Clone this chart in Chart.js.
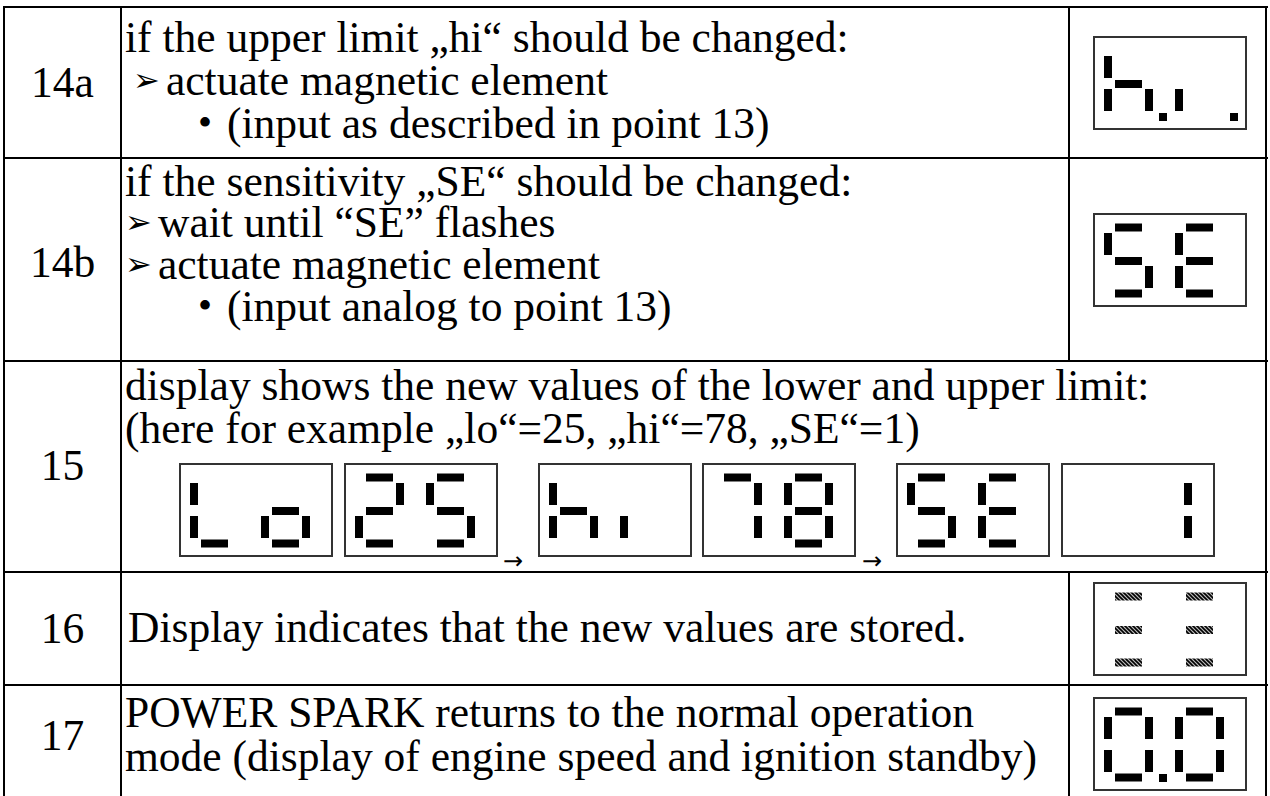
<!DOCTYPE html>
<html>
<head>
<meta charset="utf-8">
<script src="https://cdn.jsdelivr.net/npm/chart.js@4/dist/chart.umd.min.js"></script>
<style>
html, body { margin: 0; padding: 0; background: #fff; overflow: hidden; }
#page { position: relative; width: 1270px; height: 796px; font-family: "Liberation Serif", "Times New Roman", serif; font-size: 43.5px; color: #000; }
.hr { position: absolute; height: 2px; background: #000; }
.vr { position: absolute; width: 2px; background: #000; }
.num { position: absolute; left: 4px; width: 117px; text-align: center; height: 40px; line-height: 40px; }
.ln { position: absolute; white-space: nowrap; height: 40px; line-height: 40px; }
.mk { position: absolute; height: 40px; line-height: 40px; font-family: "DejaVu Sans", sans-serif; font-size: 32px; }
.mk.dot { font-family: "Liberation Serif", serif; font-size: 40px; }
.box { position: absolute; box-sizing: border-box; width: 154px; height: 94px; border: 2px solid #333; background: #fff; }
.box canvas { position: absolute; left: 0; top: 0; }
.arrow { position: absolute; font-family: "DejaVu Sans", sans-serif; font-size: 24px; line-height: 20px; }
</style>
</head>
<body>
<div id="page"></div>
<script>
// display contents (what each seven-segment display shows)
const steps = ['14a', '14b', '15', '16', '17'];
const display14a = 'h.i.';
const display14b = 'SE';
const display15 = ['Lo', '25', 'hi', '78', 'SE', ' 1'];
const display16 = '≡≡';   // flashing bars
const display17 = '0.0';

// which segments are lit for each character
const glyphs = {
  '0': 'abcdef', '1': 'bc', '2': 'abdeg', '5': 'acdfg', '7': 'abc', '8': 'abcdefg',
  'S': 'acdfg', 'E': 'adefg', 'L': 'def', 'o': 'cdeg', 'h': 'cefg', 'i': 'e',
  '≡': 'adg', ' ': ''
};

// segment shape inside one digit cell (units of the display box)
const segShape = {
  a: [[11, 14.5], [38, 14.5]], g: [[11, 48], [38, 48]], d: [[11, 80.5], [38, 80.5]],
  f: [[4, 20], [4, 42]], e: [[4, 53], [4, 75]],
  b: [[45, 20], [45, 42]], c: [[45, 53], [45, 75]],
  p: [[55, 81], [63, 81]]
};
const digitStart = 11, digitPitch = 71;

const page = document.getElementById('page');
function add(cls, css, text) {
  const d = document.createElement('div');
  d.className = cls;
  Object.assign(d.style, css);
  if (text != null) d.textContent = text;
  page.appendChild(d);
  return d;
}

// table rules
const rowLines = [7, 158, 361, 572, 685];
rowLines.forEach(y => add('hr', { left: '4px', width: '1264px', top: (y - 1) + 'px' }));
add('vr', { left: '3px', top: '6px', height: '800px' });
add('vr', { left: '120px', top: '6px', height: '800px' });
add('vr', { left: '1265px', top: '6px', height: '800px' });
add('vr', { left: '1068px', top: '6px', height: '356px' });
add('vr', { left: '1068px', top: '571px', height: '230px' });

// step numbers
const numCenters = [82, 262, 465, 628, 735];
steps.forEach((s, i) => add('num', { top: (numCenters[i] - 20) + 'px' }, s));

// text lines: [centerY, textX, text, marker, markerX]
const lines = [
  [37, 125, 'if the upper limit „hi“ should be changed:'],
  [80, 166, 'actuate magnetic element', '➢', 133],
  [123, 227, '(input as described in point 13)', '•', 198],
  [181, 125, 'if the sensitivity „SE“ should be changed:'],
  [222, 158, 'wait until “SE” flashes', '➢', 125],
  [264, 158, 'actuate magnetic element', '➢', 125],
  [306, 227, '(input analog to point 13)', '•', 198],
  [385, 125, 'display shows the new values of the lower and upper limit:'],
  [428, 125, '(here for example „lo“=25, „hi“=78, „SE“=1)'],
  [627, 128, 'Display indicates that the new values are stored.'],
  [712, 125, 'POWER SPARK returns to the normal operation'],
  [756, 125, 'mode (display of engine speed and ignition standby)']
];
lines.forEach(l => {
  add('ln', { top: (l[0] - 20) + 'px', left: l[1] + 'px' }, l[2]);
  if (l[3]) add(l[3] === '•' ? 'mk dot' : 'mk', { top: (l[0] - 20) + 'px', left: l[4] + 'px' }, l[3]);
});

// hatch pattern for flashing segments
const pc = document.createElement('canvas');
pc.width = 4; pc.height = 4;
const pctx = pc.getContext('2d');
pctx.fillStyle = '#bbb'; pctx.fillRect(0, 0, 4, 4);
pctx.strokeStyle = '#000'; pctx.lineWidth = 1.6;
pctx.beginPath(); pctx.moveTo(-1, -1); pctx.lineTo(5, 5); pctx.stroke();
pctx.beginPath(); pctx.moveTo(3, -1); pctx.lineTo(5, 1); pctx.stroke();
pctx.beginPath(); pctx.moveTo(-1, 3); pctx.lineTo(1, 5); pctx.stroke();
const hatch = pctx.createPattern(pc, 'repeat');

function parseDisplay(str) {
  const cells = [];
  for (const ch of str) {
    if (ch === '.' && cells.length) cells[cells.length - 1].dp = true;
    else cells.push({ ch, dp: false });
  }
  return cells;
}

function makeDisplay(left, top, str, flashing) {
  const box = add('box', { left: left + 'px', top: top + 'px' });
  const cv = document.createElement('canvas');
  cv.width = 150; cv.height = 90;
  box.appendChild(cv);
  const datasets = [];
  parseDisplay(str).forEach((cell, i) => {
    const ox = digitStart + i * digitPitch;
    let segs = glyphs[cell.ch] || '';
    if (cell.dp) segs += 'p';
    for (const s of segs) {
      const [p1, p2] = segShape[s];
      datasets.push({
        data: [{ x: ox + p1[0], y: p1[1] }, { x: ox + p2[0], y: p2[1] }],
        showLine: true,
        borderColor: flashing ? hatch : '#000',
        borderWidth: 8,
        borderCapStyle: 'butt',
        pointRadius: 0
      });
    }
  });
  new Chart(cv, {
    type: 'scatter',
    data: { datasets },
    options: {
      responsive: false,
      animation: false,
      events: [],
      layout: { padding: 0 },
      scales: {
        x: { type: 'linear', min: 2, max: 152, display: false },
        y: { min: 2, max: 92, reverse: true, display: false }
      },
      plugins: { legend: { display: false }, tooltip: { enabled: false } }
    }
  });
}

makeDisplay(1093, 36, display14a);
makeDisplay(1093, 213, display14b);
const row15Lefts = [179, 344, 538, 702, 896, 1061];
display15.forEach((s, i) => makeDisplay(row15Lefts[i], 463, s));
add('arrow', { left: '503px', top: '551px' }, '→');
add('arrow', { left: '862px', top: '551px' }, '→');
makeDisplay(1093, 582, display16, true);
makeDisplay(1093, 697, display17);
</script>
</body>
</html>
